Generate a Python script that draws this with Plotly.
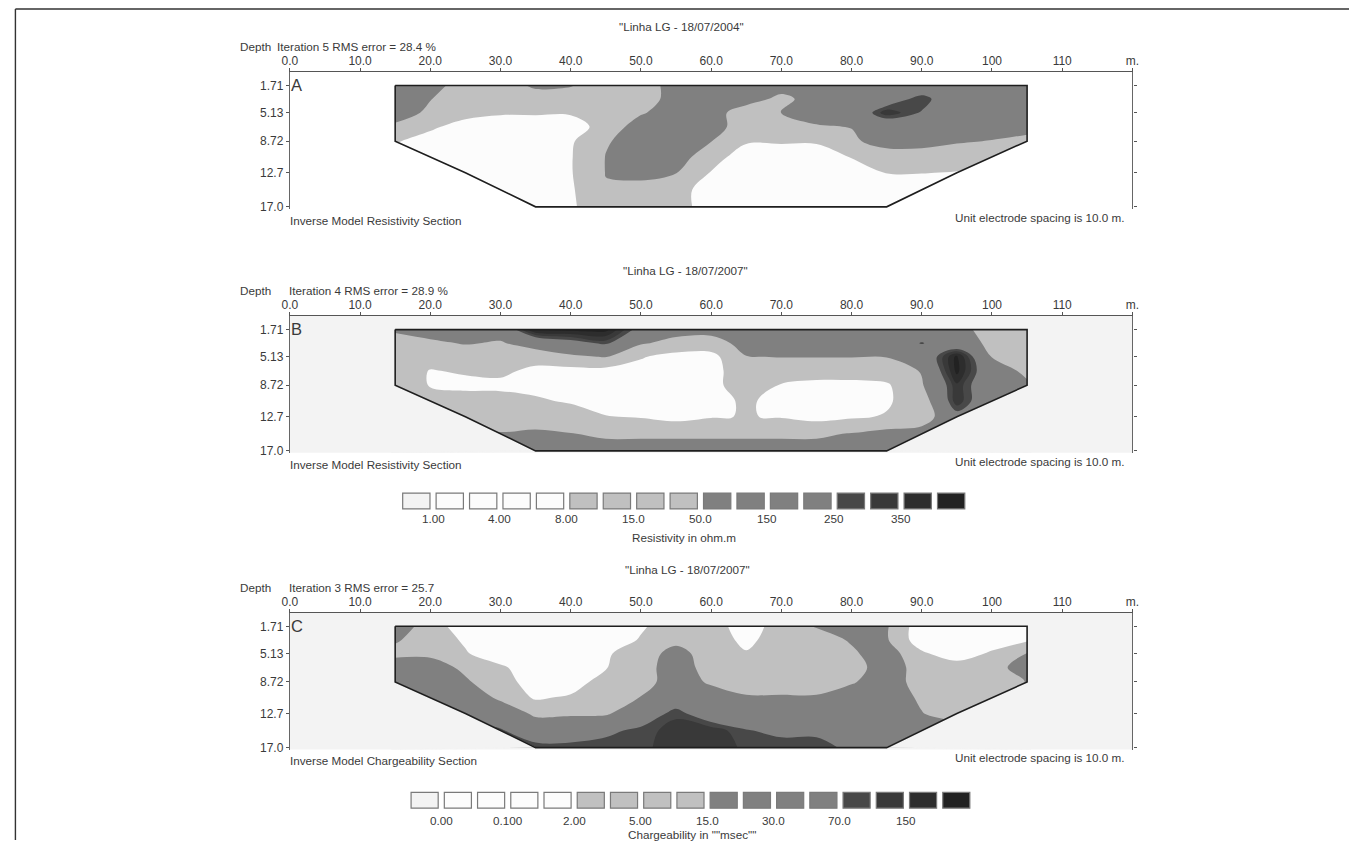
import numpy as np
import plotly.graph_objects as go

FIG_W, FIG_H = 1356, 845
FONT = "Liberation Sans, Arial, sans-serif"
TEXT_COLOR = "#3a3a3a"
TEXT_SIZE = 11.7

# ---- model mesh (distance along the line, m) and depths (m) ----
X_NODES = [15, 20, 25, 30, 35, 40, 45, 50, 55, 60, 65, 70, 75, 80, 85, 90, 95, 100, 105]
DEPTH_NODES = [1.71, 3.42, 5.13, 6.90, 8.72, 10.7, 12.7, 14.85, 17.0]

# labelled depth levels and the horizontal extent of the section at each level
DEPTH_LEVELS = [1.71, 5.13, 8.72, 12.7, 17.0]
DEPTH_LABELS = ["1.71", "5.13", "8.72", "12.7", "17.0"]
LEVEL_XMIN = [15, 15, 15, 25, 35]
LEVEL_XMAX = [105, 105, 105, 95, 85]

DISTANCE_TICKS = [0, 10, 20, 30, 40, 50, 60, 70, 80, 90, 100, 110, 120]
DISTANCE_LABELS = ["0.0", "10.0", "20.0", "30.0", "40.0", "50.0", "60.0",
                   "70.0", "80.0", "90.0", "100", "110", "m."]

# colour-class boundaries printed under the legends
RES_CLASSES = [1.00, 4.00, 8.00, 15.0, 50.0, 150, 250, 350]
RES_CLASS_LABELS = ["1.00", "4.00", "8.00", "15.0", "50.0", "150", "250", "350"]
IP_CLASSES = [0.00, 0.100, 2.00, 5.00, 15.0, 30.0, 70.0, 150]
IP_CLASS_LABELS = ["0.00", "0.100", "2.00", "5.00", "15.0", "30.0", "70.0", "150"]

SHADES = ["#f3f3f3", "#fcfcfc", "#fcfcfc", "#fcfcfc", "#fcfcfc",
          "#c0c0c0", "#c0c0c0", "#c0c0c0", "#c0c0c0",
          "#808080", "#808080", "#808080", "#808080",
          "#484848", "#393939", "#2d2d2d", "#222222"]

# ---- inverse model resistivity, 18/07/2004 (ohm.m); rows = depths, cols = X_NODES ----
RES_2004 = [
    [120, 120, 20, 20, 80, 60, 20, 20, 120, 120, 120, 120, 120, 120, 120, 120, 120, 120, 120],
    [120, 55, 20, 20, 20, 20, 20, 20, 120, 120, 120, 35, 120, 120, 160, 300, 120, 120, 120],
    [120, 40, 20, 10, 10, 10, 12, 45, 120, 120, 20, 55, 120, 120, 340, 240, 120, 120, 120],
    [40, 12, 3, 3, 3, 3, 20, 120, 120, 120, 20, 20, 45, 55, 120, 120, 120, 120, 120],
    [10, 3, 3, 3, 3, 7, 45, 120, 120, 55, 10, 10, 10, 40, 120, 120, 65, 48, 30],
    [3, 3, 3, 6.5, 6.5, 7.5, 55, 120, 120, 20, 3, 3, 3, 9, 20, 20, 20, 20, 20],
    [3, 3, 3, 6.5, 6.5, 7.5, 55, 120, 55, 7.5, 6.5, 3, 3, 3, 8.5, 8.5, 7.5, 3, 3],
    [3, 3, 3, 6.5, 6.5, 7, 45, 20, 20, 3, 6.5, 6.5, 3, 3, 3, 3, 3, 3, 3],
    [3, 3, 3, 3, 6.5, 7, 20, 20, 20, 3, 6.5, 6.5, 3, 3, 3, 3, 3, 3, 3],
]

# ---- inverse model resistivity, 18/07/2007 (ohm.m) ----
RES_2007 = [
    [80, 120, 120, 120, 420, 420, 420, 200, 120, 120, 120, 120, 120, 120, 120, 120, 120, 20, 20],
    [20, 40, 60, 45, 120, 200, 270, 70, 30, 20, 120, 120, 120, 120, 120, 260, 120, 40, 20],
    [20, 20, 20, 20, 20, 40, 60, 9, 5.5, 5.5, 48, 55, 55, 55, 55, 120, 420, 48, 20],
    [20, 7.5, 10, 12, 5.5, 5.5, 5.5, 5.5, 5.5, 5.5, 20, 20, 20, 20, 20, 60, 420, 120, 40],
    [20, 7.5, 5.5, 5.5, 5.5, 5.5, 5.5, 5.5, 5.5, 5.5, 20, 7.5, 5.5, 5.5, 7, 45, 340, 120, 70],
    [20, 20, 20, 16, 10, 7, 5.5, 5.5, 5.5, 5.5, 10, 5.5, 5.5, 5.5, 7, 20, 340, 120, 120],
    [20, 20, 20, 20, 20, 20, 8.5, 7.5, 5.5, 7.5, 8.5, 7.5, 5.5, 7, 9, 20, 200, 120, 120],
    [120, 120, 120, 60, 80, 55, 40, 40, 40, 40, 40, 40, 40, 60, 120, 120, 120, 120, 120],
    [120, 120, 120, 120, 120, 120, 120, 120, 120, 120, 120, 120, 120, 120, 120, 120, 120, 120, 120],
]

# ---- inverse model chargeability, 18/07/2007 (msec) ----
IP_2007 = [
    [35, 6, 0.08, 0.08, 0.08, 0.08, 0.08, 1.5, 6, 6, 0.08, 6, 17, 35, 18, 0.08, 0.08, 0.08, 1.5],
    [18, 6, 1.5, 0.08, 0.08, 0.08, 0.08, 2.5, 10, 6, 1.0, 6, 6, 18, 18, 0.08, 0.08, 0.08, 1.5],
    [10, 12, 2.5, 0.08, 0.08, 0.08, 1.5, 6, 25, 6, 2.5, 6, 6, 12, 32, 3, 0.08, 3, 16],
    [35, 25, 12, 3, 0.08, 0.08, 1.8, 6, 35, 6, 6, 6, 6, 6, 35, 6, 6, 6, 35],
    [40, 35, 18, 6, 0.08, 0.08, 6, 6, 35, 12, 6, 6, 6, 13, 35, 6, 6, 6, 16],
    [100, 50, 35, 12, 1.5, 3, 6, 16, 35, 35, 18, 18, 18, 35, 35, 12, 6, 6, 35],
    [100, 100, 60, 35, 12, 13, 13, 35, 100, 35, 35, 35, 35, 35, 35, 16, 6, 6, 6],
    [100, 100, 100, 80, 35, 35, 60, 90, 130, 140, 75, 60, 60, 35, 35, 35, 35, 35, 35],
    [100, 100, 100, 100, 100, 100, 100, 100, 130, 140, 100, 100, 100, 60, 35, 35, 35, 35, 35],
]


def px(X):
    return X / FIG_W


def py(Y):
    return 1 - Y / FIG_H


def legend_position(values, classes):
    """Map values onto the legend scale: class label j sits at position 2j+1,
    box k spans [k, k+1]."""
    c = np.asarray(classes, float)
    xs = np.concatenate([[c[0] - (c[1] - c[0])], c, [c[-1] + (c[-1] - c[-2])]])
    ps = np.concatenate([[-1.0], 1.0 + 2.0 * np.arange(len(c)), [2.0 * len(c) + 1]])
    return np.interp(np.asarray(values, float), xs, ps)


# stepped grey scale, one step per legend box
N_BOX = len(SHADES)
colorscale = []
for k, col in enumerate(SHADES):
    colorscale.append([max(0.0, (k - 0.5) / (N_BOX - 1)), col])
    colorscale.append([min(1.0, (k + 0.5) / (N_BOX - 1)), col])

PX_PER_M_DEPTH = 7.98
DEPTH_MAX = 17.25
AXIS_LEFT, AXIS_RIGHT = 285, 1137

PANELS = [
    dict(grid=RES_2004, classes=RES_CLASSES, top=72.4, bg="#ffffff",
         title='"Linha LG - 18/07/2004"', title_x=681, title_y=27,
         iteration="Iteration 5 RMS error = 28.4 %", iter_x=271, letter="A",
         caption="Inverse Model Resistivity Section"),
    dict(grid=RES_2007, classes=RES_CLASSES, top=317.9, bg="#f3f3f3",
         title='"Linha LG - 18/07/2007"', title_x=685, title_y=271.7,
         iteration="Iteration 4 RMS error = 28.9 %", iter_x=283, letter="B",
         caption="Inverse Model Resistivity Section"),
    dict(grid=IP_2007, classes=IP_CLASSES, top=616.4, bg="#f3f3f3",
         title='"Linha LG - 18/07/2007"', title_x=687, title_y=573.3,
         iteration="Iteration 3 RMS error = 25.7", iter_x=283, letter="C",
         caption="Inverse Model Chargeability Section"),
]

fig = go.Figure()
shapes = []
annotations = []
layout_axes = {}

outline_x = LEVEL_XMIN + LEVEL_XMAX[::-1] + [LEVEL_XMIN[0]]
outline_y = DEPTH_LEVELS + DEPTH_LEVELS[::-1] + [DEPTH_LEVELS[0]]
left_mask_x = LEVEL_XMIN[2:] + [X_NODES[0] - 0.5, X_NODES[0] - 0.5]
left_mask_y = DEPTH_LEVELS[2:] + [DEPTH_NODES[-1] + 0.3, DEPTH_LEVELS[2]]
right_mask_x = LEVEL_XMAX[2:] + [X_NODES[-1] + 0.5, X_NODES[-1] + 0.5]
right_mask_y = DEPTH_LEVELS[2:] + [DEPTH_NODES[-1] + 0.3, DEPTH_LEVELS[2]]


def note(text, X, Y, anchor="left", size=TEXT_SIZE):
    annotations.append(dict(text=text, x=px(X), y=py(Y), xref="paper", yref="paper",
                            xanchor=anchor, yanchor="middle", showarrow=False,
                            borderpad=0,
                            font=dict(family=FONT, size=size, color=TEXT_COLOR)))


for i, p in enumerate(PANELS, start=1):
    xa = "x" if i == 1 else f"x{i}"
    ya = "y" if i == 1 else f"y{i}"
    top = p["top"]
    bottom = top + DEPTH_MAX * PX_PER_M_DEPTH

    z = legend_position(p["grid"], p["classes"])
    fig.add_trace(go.Contour(
        x=X_NODES, y=DEPTH_NODES, z=z, xaxis=xa, yaxis=ya,
        colorscale=colorscale, showscale=False,
        contours=dict(start=1, end=16, size=1, coloring="fill", showlines=False),
        line=dict(width=0), hoverinfo="skip"))

    for mx, my in ((left_mask_x, left_mask_y), (right_mask_x, right_mask_y)):
        fig.add_trace(go.Scatter(
            x=mx, y=my, xaxis=xa, yaxis=ya, mode="lines", fill="toself",
            fillcolor=p["bg"], line=dict(width=0.6, color=p["bg"]),
            hoverinfo="skip", showlegend=False))

    fig.add_trace(go.Scatter(
        x=outline_x, y=outline_y, xaxis=xa, yaxis=ya, mode="lines",
        line=dict(color="#1e1e1e", width=1.6), hoverinfo="skip", showlegend=False))

    layout_axes["xaxis" if i == 1 else f"xaxis{i}"] = dict(
        domain=[px(AXIS_LEFT), px(AXIS_RIGHT)], range=[0, 120], anchor=ya, side="top",
        tickmode="array", tickvals=DISTANCE_TICKS, ticktext=DISTANCE_LABELS,
        ticks="outside", ticklen=3, tickcolor="#555", ticklabelstandoff=-2,
        showline=True, linecolor="#555",
        linewidth=1.2, showgrid=False, zeroline=False, fixedrange=True,
        tickfont=dict(family=FONT, size=12, color=TEXT_COLOR))
    layout_axes["yaxis" if i == 1 else f"yaxis{i}"] = dict(
        domain=[py(bottom), py(top)], range=[DEPTH_MAX, 0], anchor=xa,
        tickmode="array", tickvals=DEPTH_LEVELS, ticktext=DEPTH_LABELS,
        ticks="outside", ticklen=3, tickcolor="#555", showline=True, mirror="ticks",
        linecolor="#666", linewidth=1.2, showgrid=False, zeroline=False, fixedrange=True,
        tickfont=dict(family=FONT, size=12, color=TEXT_COLOR))

    if p["bg"] != "#ffffff":
        shapes.append(dict(type="rect", xref=f"{xa} domain", yref=f"{ya} domain",
                           x0=0, x1=1, y0=0, y1=1, fillcolor=p["bg"],
                           line=dict(width=0), layer="below"))

    note(p["title"], p["title_x"], p["title_y"], "center")
    note("Depth", 250, top - 25.7, "center")
    note(p["iteration"], p["iter_x"], top - 25.7)
    note(p["letter"], 285, top + 13, "left", 16.5)
    note(p["caption"], 284, top + 149)
    note("Unit electrode spacing is 10.0 m.", 1131, top + 146, "right")

# ---- colour legends ----
LEGENDS = [
    dict(labels=RES_CLASS_LABELS, x0=399.1, pitch=33.8, y0=496, y1=512, label_y=522,
         title="Resistivity in ohm.m", title_x=684, title_y=541),
    dict(labels=IP_CLASS_LABELS, x0=407.6, pitch=33.6, y0=797, y1=813, label_y=825.5,
         title='Chargeability in ""msec""', title_x=692, title_y=839),
]
for lg in LEGENDS:
    box_w = lg["pitch"] - 6.2
    for k, col in enumerate(SHADES):
        X0 = lg["x0"] + k * lg["pitch"]
        shapes.append(dict(type="rect", xref="paper", yref="paper",
                           x0=px(X0), x1=px(X0 + box_w), y0=py(lg["y1"]), y1=py(lg["y0"]),
                           fillcolor=col, line=dict(color="#7a7a7a", width=1.2)))
    for j, lab in enumerate(lg["labels"]):
        X = lg["x0"] + (2 * j + 1) * lg["pitch"] - 3.1
        note(lab, X, lg["label_y"], "center")
    note(lg["title"], lg["title_x"], lg["title_y"], "center")

# page frame (top and left rules)
shapes.append(dict(type="line", xref="paper", yref="paper", x0=px(7.5), x1=1,
                   y0=py(9), y1=py(9), line=dict(color="#333", width=1.4)))
shapes.append(dict(type="line", xref="paper", yref="paper", x0=px(7.5), x1=px(7.5),
                   y0=py(9), y1=0, line=dict(color="#333", width=1.4)))

fig.update_layout(
    width=FIG_W, height=FIG_H, margin=dict(l=0, r=0, t=0, b=0),
    paper_bgcolor="#ffffff", plot_bgcolor="#ffffff",
    showlegend=False, hovermode=False,
    shapes=shapes, annotations=annotations, **layout_axes)

fig.write_html("out.html")
